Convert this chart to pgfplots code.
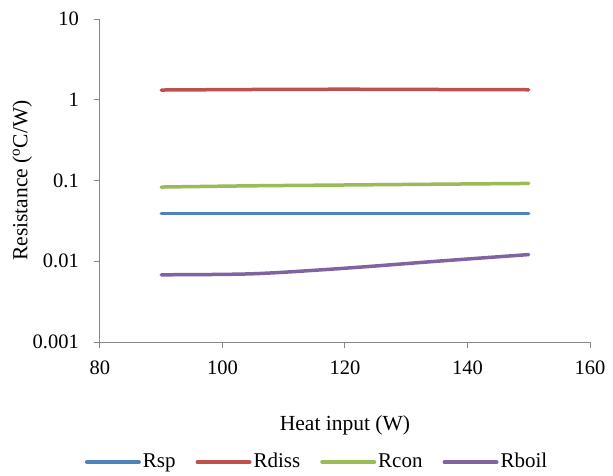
\documentclass[border=0pt]{standalone}
\usepackage{pgfplots}
\pgfplotsset{compat=1.18}
\usepackage{fontspec}
\setmainfont{Liberation Serif}
\definecolor{xblue}{HTML}{4F81BD}
\definecolor{xred}{HTML}{C0504D}
\definecolor{xgreen}{HTML}{9BBB59}
\definecolor{xpurple}{HTML}{8064A2}
\definecolor{axgray}{HTML}{868686}
\begin{document}
\fontsize{21bp}{25bp}\selectfont
\begin{tikzpicture}
\begin{axis}[
  at={(0,0)}, anchor=south west,
  scale only axis, width=490bp, height=323bp,
  ymode=log, xmin=80, xmax=160, ymin=0.001, ymax=10,
  xtick={80,100,120,140,160},
  ytick={0.001,0.01,0.1,1,10},
  yticklabels={0.001,0.01,0.1,1,10},
  minor ytick={}, 
  axis x line*=bottom, axis y line*=left,
  axis line style={draw=axgray, line width=1bp, -},
  tick style={draw=axgray, line width=1bp},
  tick align=outside, major tick length=6bp,
  yminorticks=false,
  tick label style={font=\fontsize{20.5bp}{24bp}\selectfont},
  /pgf/number format/assume math mode=true,
  xticklabel style={yshift=-6bp},
  yticklabel style={xshift=-8bp},
  xlabel={Heat input (W)},
  ylabel={Resistance (\textsuperscript{o}C/W)},
  label style={font=\fontsize{21.5bp}{25bp}\selectfont},
  xlabel style={at={(axis description cs:0.5,-0.257)}, anchor=center},
  ylabel style={at={(axis description cs:-0.159,0.5)}, anchor=center},
  legend columns=-1,
  legend style={draw=none, fill=none, at={(0.443,-0.372)}, anchor=center,
    font=\fontsize{21bp}{25bp}\selectfont,
    /tikz/every even column/.append style={column sep=18bp},
    inner sep=0pt},
  legend image code/.code={\draw[#1, line width=4bp, line cap=round] (0bp,0bp)--(52bp,0bp);},
  every axis plot/.append style={line width=3.5bp, line cap=round, smooth, no marks},
]
\addplot[xblue] coordinates {(90,0.039) (105,0.039) (120,0.039) (135,0.039) (150,0.039)};
\addlegendentry{Rsp}
\addplot[xred] coordinates {(90,1.32) (105,1.34) (120,1.35) (135,1.34) (150,1.33)};
\addlegendentry{Rdiss}
\addplot[xgreen] coordinates {(90,0.083) (105,0.086) (120,0.088) (135,0.090) (150,0.092)};
\addlegendentry{Rcon}
\addplot[xpurple] coordinates {(90,0.0068) (105,0.0070) (120,0.0082) (135,0.0100) (150,0.0121)};
\addlegendentry{Rboil}
\end{axis}
\pgfresetboundingbox
\path (-100bp,-134bp) rectangle (513bp,342bp);
\end{tikzpicture}
\end{document}
